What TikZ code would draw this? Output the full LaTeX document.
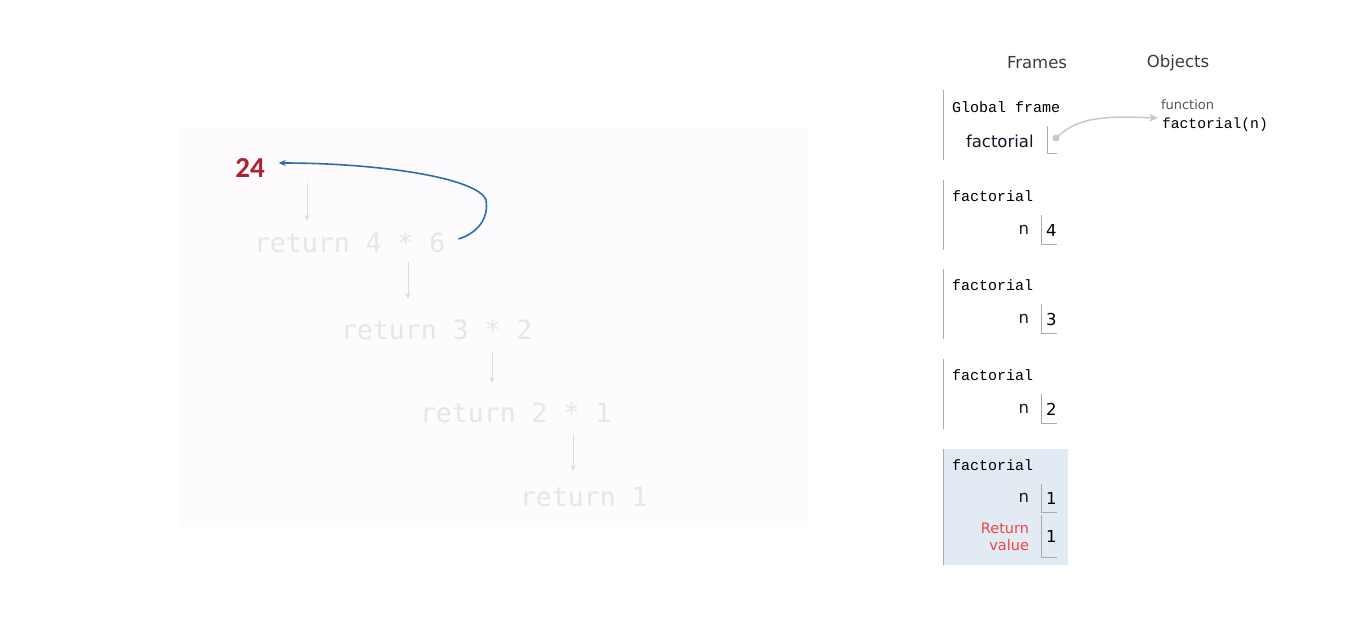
\documentclass[tikz,border=0pt]{standalone}
\usepackage{fontspec}
\setmainfont{DejaVu Sans}
\newfontfamily\monof{DejaVu Sans Mono}
\newfontfamily\gmono{Liberation Mono}
\newfontfamily\carl{Carlito}
\usetikzlibrary{arrows.meta}
\definecolor{panelbg}{HTML}{FDFBFD}
\definecolor{fainttext}{HTML}{E6E6E6}
\definecolor{faintline}{HTML}{DCDCDC}
\definecolor{curveblue}{HTML}{2A6EB0}
\definecolor{bigred}{HTML}{B0202E}
\definecolor{headgray}{HTML}{3C3C3C}
\definecolor{framegray}{HTML}{AAAAAA}
\definecolor{hlbg}{HTML}{E2EAF4}
\definecolor{retred}{HTML}{EE4444}
\definecolor{ptrgray}{HTML}{C8C8C8}
\definecolor{funcgray}{HTML}{555555}
\definecolor{varcol}{HTML}{2A1A0A}
\definecolor{gvarcol}{HTML}{101828}
\tikzset{
  every node/.style={inner sep=0pt, outer sep=0pt},
  retline/.style={font=\monof\fontsize{26.5}{30}\selectfont, text=fainttext, anchor=west},
  faintarr/.style={draw=faintline, line width=0.8pt, -{Stealth[length=6pt,width=5pt]}},
  fline/.style={draw=framegray, line width=0.8pt},
  fname/.style={font=\gmono\fontsize{15}{17}\selectfont, anchor=west},
  vname/.style={font=\fontsize{16.5}{18}\selectfont, text=varcol, anchor=east},
  vval/.style={font=\fontsize{16.5}{18}\selectfont, text=black, anchor=west},
  header/.style={font=\fontsize{16.5}{18}\selectfont, text=headgray},
}
\begin{document}
\begin{tikzpicture}[x=1pt,y=-1pt]
\useasboundingbox (0,0) rectangle (1350,629);
\fill[white] (0,0) rectangle (1350,629);
% left panel
\fill[panelbg] (178,128) rectangle (808,527);
\node[font=\carl\bfseries\fontsize{29}{32}\selectfont, text=bigred] (n24) at (250,168) {24};
\node[retline] (ret4) at (254,243) {return 4 * 6};
\node[retline] (ret3) at (341,330) {return 3 * 2};
\node[retline] (ret2) at (420,413) {return 2 * 1};
\node[retline] (ret1) at (520,497) {return 1};
\coordinate (a1s) at (307,183); \coordinate (a1e) at (307,221);
\coordinate (a2s) at (408,262); \coordinate (a2e) at (408,299);
\coordinate (a3s) at (492,352); \coordinate (a3e) at (492,383);
\coordinate (a4s) at (573,434); \coordinate (a4e) at (573,471);
\draw[faintarr] (a1s) -- (a1e);
\draw[faintarr] (a2s) -- (a2e);
\draw[faintarr] (a3s) -- (a3e);
\draw[faintarr] (a4s) -- (a4e);
\draw[curveblue, line width=1.6pt, -{Stealth[length=7pt,width=6pt]}]
  ([xshift=13pt,yshift=4pt]ret4.east) .. controls (478,233) and (489,218) .. (486,200)
  .. controls (478,178) and (380,163) .. ([xshift=14pt,yshift=5pt]n24.east);
% headers
\node[header] (frames) at (1037,63) {Frames};
\node[header] (objects) at (1178,63) {Objects};
% global frame
\draw[fline] (943,90) -- (943,160);
\node[fname] (gf) at (952,107) {Global frame};
\node[font=\fontsize{16.5}{18}\selectfont, text=gvarcol, anchor=west] (gfac) at (966,141) {factorial};
\draw[fline] (1047,126) |- (1057,153);
\node[circle, fill=ptrgray, minimum size=7pt] (dot) at (1056,138) {};
\node[font=\fontsize{13}{15}\selectfont, text=funcgray, anchor=west] (fnlab) at (1161,105) {function};
\node[font=\gmono\fontsize{14.7}{17}\selectfont, anchor=west] (fnobj) at (1162,125) {factorial(n)};
\draw[ptrgray, line width=1.5pt, -{Stealth[length=9pt,width=8pt]}]
  (dot.center) .. controls (1075,120) and (1095,115) .. ([xshift=-4pt]fnobj.north west);
% factorial frames
\foreach \t/\v/\i in {180/4/a, 269/3/b, 359/2/c}{
  \draw[fline] (943,\t) -- (943,\t+70);
  \node[fname] (fn\i) at (952,\t+16) {factorial};
  \node[vname] (n\i) at (1029,\t+50) {n};
  \draw[fline] (1041,\t+35) |- (1057,\t+64);
  \node[vval] (v\i) at (1046,\t+50) {\v};
}
% highlighted last frame
\fill[hlbg] (943,449) rectangle (1068,565);
\draw[fline] (943,449) -- (943,565);
\node[fname] (fnd) at (952,465) {factorial};
\node[vname] (nd) at (1029,498) {n};
\draw[fline] (1041,484) |- (1057,512);
\node[vval] (vd) at (1046,498) {1};
\node[font=\fontsize{14.5}{17.5}\selectfont, text=retred, anchor=east, align=right] (rv) at (1029,537) {Return\\value};
\draw[fline] (1041,515) |- (1057,557);
\node[vval] (rvv) at (1046,536) {1};
\end{tikzpicture}
\end{document}
